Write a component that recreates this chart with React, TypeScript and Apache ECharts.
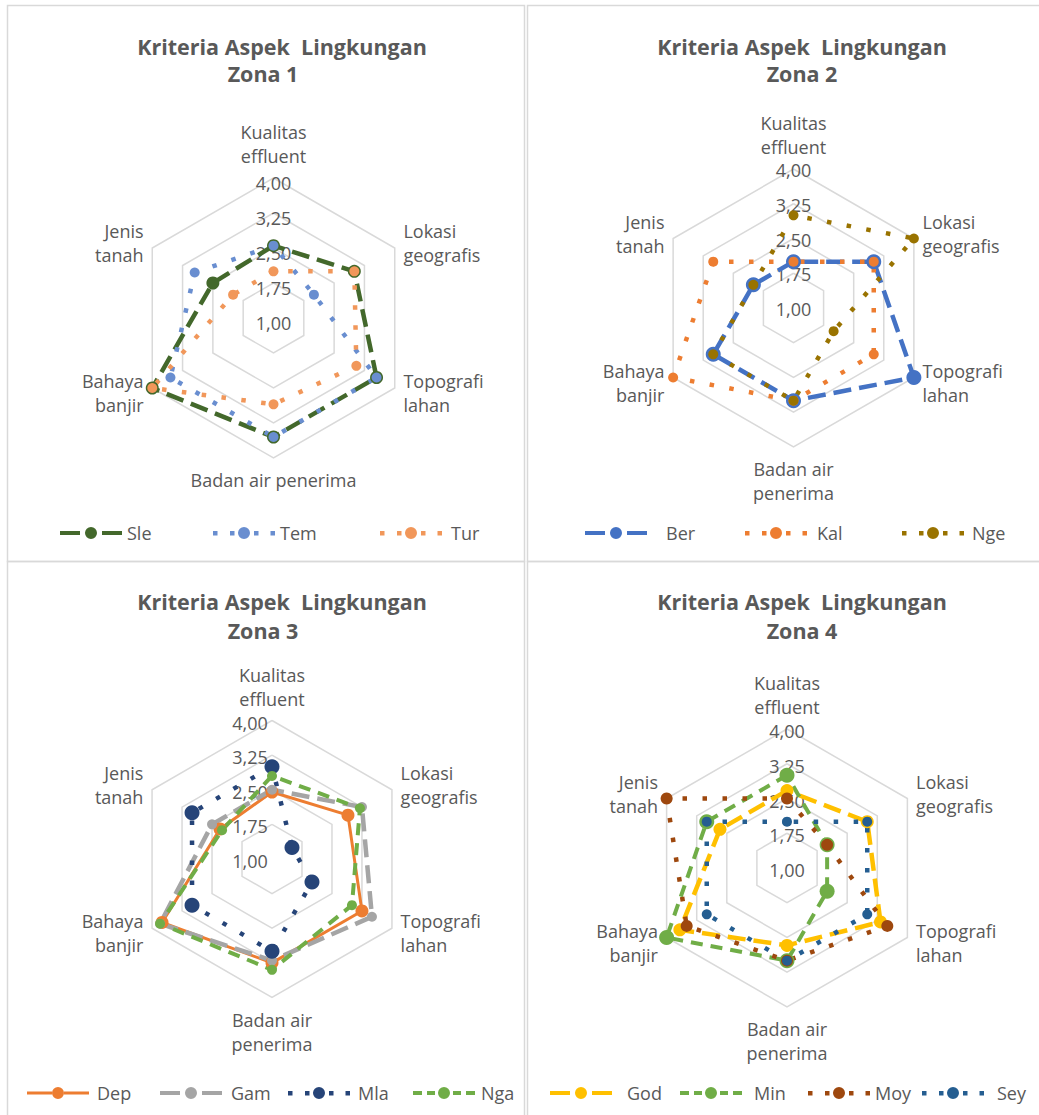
import React, { useEffect, useRef } from "react";
import * as echarts from "echarts";

// ---------------- data ----------------
const criteriaZona1 = ["Kualitas\neffluent", "Lokasi\ngeografis", "Topografi\nlahan", "Badan air penerima", "Bahaya\nbanjir", "Jenis\ntanah"];
const criteriaOther = ["Kualitas\neffluent", "Lokasi\ngeografis", "Topografi\nlahan", "Badan air\npenerima", "Bahaya\nbanjir", "Jenis\ntanah"];
const axisMin = 1;
const axisMax = 4;
const axisSplits = 4;

const titleLine1 = "Kriteria Aspek  Lingkungan";
const zoneTitles = ["Zona 1", "Zona 2", "Zona 3", "Zona 4"];

const zona1Names = ["Sle", "Tem", "Tur"];
const sleValues = [2.55, 3.0, 3.55, 3.55, 4.0, 2.5];
const temValues = [2.55, 2.0, 3.55, 3.55, 3.55, 2.95];
const turValues = [2.0, 3.0, 3.05, 2.85, 4.0, 2.0];

const zona2Names = ["Ber", "Kal", "Nge"];
const berValues = [2.0, 3.0, 4.0, 3.0, 3.0, 2.0];
const kalValues = [2.0, 3.0, 3.0, 3.0, 4.0, 3.0];
const ngeValues = [3.0, 4.0, 2.0, 3.0, 3.0, 2.0];

const zona3Names = ["Dep", "Gam", "Mla", "Nga"];
const depValues = [2.45, 2.9, 3.25, 3.25, 3.75, 2.3];
const gamValues = [2.5, 3.25, 3.5, 3.2, 3.8, 2.5];
const mlaValues = [3.0, 1.5, 2.0, 3.0, 3.0, 3.0];
const ngaValues = [2.8, 3.2, 3.0, 3.4, 3.8, 2.25];

const zona4Names = ["God", "Min", "Moy", "Sey"];
const godValues = [2.67, 3.0, 3.33, 2.67, 3.67, 2.67];
const minValues = [3.0, 2.0, 2.0, 3.0, 4.0, 3.0];
const moyValues = [2.5, 2.0, 3.5, 3.0, 3.5, 4.0];
const seyValues = [2.0, 3.0, 3.0, 3.0, 3.0, 3.0];

// ---------------- styles ----------------
const FONT = "'Open Sans', 'Noto Sans', sans-serif";
const TXT = "#595959";
const GRID = "#d9d9d9";
const FS = 18;

const circ = "M25,6a6,6 0 1,0 12,0a6,6 0 1,0 -12,0z";
const ICONS: Record<string, string> = {
  long: "path://M0,4h20v4h-20z M42,4h20v4h-20z " + circ,
  dash: "path://M0,4h9v4h-9z M14,4h8v4h-8z M40,4h8v4h-8z M53,4h9v4h-9z " + circ,
  dot: "path://M0,4h4.5v4.5h-4.5z M17,4h4.5v4.5h-4.5z M41,4h4.5v4.5h-4.5z M57.5,4h4.5v4.5h-4.5z " + circ,
  solid: "path://M0,4.5h25v3h-25z M37,4.5h25v3h-25z " + circ,
};
const DASH: Record<string, any> = {
  long: [18, 8],
  dash: [12, 8],
  dot: [4.5, 15.5],
  solid: "solid",
};

type LineDef = { name: string; values: number[]; color: string; kind: string; width: number; size: number; lx: number; tpad: number };

const panels = [
  {
    center: [273.5, 318], radius: 140, names: criteriaZona1, labelDy: 5, labelMargin: 0,
    t1: { x: 282, y: 32 }, t2: { x: 263, y: 59 }, legendY: 524,
    lines: [
      { name: zona1Names[0], values: sleValues, color: "#43682B", kind: "long", width: 4.5, size: 13, lx: 60, tpad: 0 },
      { name: zona1Names[1], values: temValues, color: "#698ED0", kind: "dot", width: 4.5, size: 10, lx: 213, tpad: 0 },
      { name: zona1Names[2], values: turValues, color: "#F1975A", kind: "dot", width: 4.5, size: 10, lx: 380, tpad: 4 },
    ] as LineDef[],
  },
  {
    center: [793.5, 308], radius: 139, names: criteriaOther, labelDy: 1, labelMargin: 0,
    t1: { x: 802, y: 32 }, t2: { x: 802, y: 59 }, legendY: 524,
    lines: [
      { name: zona2Names[0], values: berValues, color: "#4472C4", kind: "long", width: 4.5, size: 15, lx: 585, tpad: 14 },
      { name: zona2Names[1], values: kalValues, color: "#ED7D31", kind: "dot", width: 4.5, size: 10, lx: 745, tpad: 5 },
      { name: zona2Names[2], values: ngeValues, color: "#997300", kind: "dot", width: 4.5, size: 10, lx: 902, tpad: 3 },
    ] as LineDef[],
  },
  {
    center: [272, 859], radius: 138.5, names: criteriaOther, labelDy: 2, labelMargin: 22,
    t1: { x: 282, y: 587 }, t2: { x: 263, y: 616 }, legendY: 1084,
    lines: [
      { name: zona3Names[0], values: depValues, color: "#ED7D31", kind: "solid", width: 3, size: 13, lx: 27, tpad: 3 },
      { name: zona3Names[1], values: gamValues, color: "#A5A5A5", kind: "long", width: 4.5, size: 10, lx: 160, tpad: 4 },
      { name: zona3Names[2], values: mlaValues, color: "#264478", kind: "dot", width: 4.5, size: 15, lx: 288, tpad: 3 },
      { name: zona3Names[3], values: ngaValues, color: "#70AD47", kind: "dash", width: 4, size: 10, lx: 413, tpad: 1 },
    ] as LineDef[],
  },
  {
    center: [787, 868], radius: 139, names: criteriaOther, labelDy: 2, labelMargin: 0,
    t1: { x: 802, y: 587 }, t2: { x: 802, y: 616 }, legendY: 1084,
    lines: [
      { name: zona4Names[0], values: godValues, color: "#FFC000", kind: "long", width: 4.5, size: 13, lx: 550, tpad: 10 },
      { name: zona4Names[1], values: minValues, color: "#70AD47", kind: "dash", width: 4, size: 15, lx: 680, tpad: 7 },
      { name: zona4Names[2], values: moyValues, color: "#9E480E", kind: "dot", width: 4.5, size: 12, lx: 808, tpad: 0 },
      { name: zona4Names[3], values: seyValues, color: "#255E91", kind: "dot", width: 4.5, size: 10, lx: 922, tpad: 8 },
    ] as LineDef[],
  },
];

// Excel draws axes clockwise; ECharts counter-clockwise -> reorder
const toRadarOrder = <T,>(a: T[]): T[] => [a[0], a[5], a[4], a[3], a[2], a[1]];

function buildOption() {
  const radar = panels.map((p) => ({
    center: p.center,
    radius: p.radius,
    startAngle: 90,
    shape: "polygon",
    splitNumber: axisSplits,
    nameGap: 10,
    axisName: { color: TXT, fontSize: FS, fontFamily: FONT, lineHeight: 24 },
    splitLine: { lineStyle: { color: GRID, width: 1.5 } },
    splitArea: { show: false },
    axisLine: { show: false },
    axisTick: { show: false },
    axisLabel: { show: false },
    indicator: toRadarOrder(p.names).map((n, i) => {
      const ind: any = { name: n, min: axisMin, max: axisMax };
      if (i === 0) {
        ind.axisLabel = {
          show: true,
          color: TXT,
          fontSize: FS,
          fontFamily: FONT,
          align: "center",
          verticalAlign: "top",
          lineHeight: p.labelDy * 2,
          margin: p.labelMargin,
          formatter: (v: number) => v.toFixed(2).replace(".", ","),
        };
      }
      return ind;
    }),
  }));

  const series: any[] = [];
  const legend: any[] = [];
  panels.forEach((p, pi) => {
    p.lines.forEach((l) => {
      series.push({
        type: "radar",
        radarIndex: pi,
        name: l.name,
        symbol: "circle",
        symbolSize: l.size,
        lineStyle: { color: l.color, width: l.width, type: DASH[l.kind], cap: "butt" },
        itemStyle: { color: l.color },
        data: [{ name: l.name, value: toRadarOrder(l.values) }],
      });
      legend.push({
        left: l.lx,
        top: p.legendY,
        padding: 0,
        itemWidth: 62,
        itemHeight: 12,
        selectedMode: false,
        itemStyle: { color: l.color, borderWidth: 0 },
        textStyle: { color: TXT, fontSize: FS, fontFamily: FONT, padding: [0, 0, 0, l.tpad] },
        data: [{ name: l.name, icon: ICONS[l.kind] }],
      });
    });
  });

  const title: any[] = [];
  panels.forEach((p, pi) => {
    const ts = { color: TXT, fontSize: 21.5, fontWeight: "bold", fontFamily: FONT, lineHeight: 28 };
    title.push({ text: titleLine1, left: p.t1.x, top: p.t1.y, textAlign: "center", padding: 0, textStyle: ts });
    title.push({ text: zoneTitles[pi], left: p.t2.x, top: p.t2.y, textAlign: "center", padding: 0, textStyle: ts });
  });

  const border = { stroke: GRID, lineWidth: 1.5, fill: "none" };
  const graphic = [
    { type: "rect", shape: { x: 7.5, y: 5.5, width: 517, height: 556 }, style: border, silent: true },
    { type: "rect", shape: { x: 527.5, y: 5.5, width: 530, height: 556 }, style: border, silent: true },
    { type: "rect", shape: { x: 7.5, y: 561.5, width: 517, height: 570 }, style: border, silent: true },
    { type: "rect", shape: { x: 527.5, y: 561.5, width: 530, height: 570 }, style: border, silent: true },
  ];

  return {
    animation: false,
    backgroundColor: "#ffffff",
    title,
    legend,
    radar,
    series,
    graphic,
  };
}

export default function App() {
  const ref = useRef<HTMLDivElement>(null);
  useEffect(() => {
    document.body.style.margin = "0";
    if (!ref.current) return;
    const chart = echarts.init(ref.current, null, { renderer: "svg" });
    chart.setOption(buildOption() as any);
    return () => chart.dispose();
  }, []);
  return <div ref={ref} style={{ width: 1039, height: 1115 }} />;
}
